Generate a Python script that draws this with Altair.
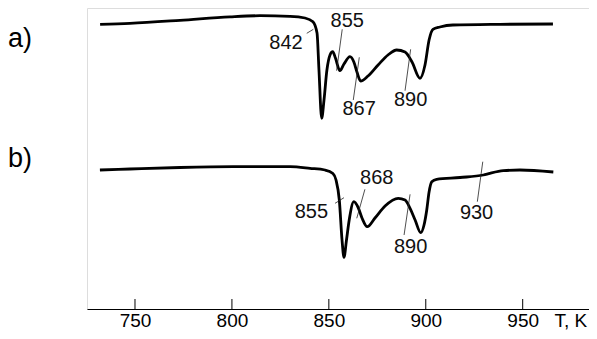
import altair as alt
import pandas as pd

# ---- data (T in K, signal in arbitrary units) ----
temps_a = [732.0, 747.4, 773.2, 799.0, 814.5, 830.0, 837.7, 841.8, 843.9, 844.9,
           846.3, 847.5, 849.0, 850.6, 852.0, 853.4, 855.7, 857.8, 860.9, 862.9,
           864.5, 866.4, 870.2, 875.4, 880.5, 885.0, 889.3, 892.9, 897.0, 899.6,
           901.7, 903.7, 907.3, 914.0, 938.3, 965.6]
signal_a = [-0.03, 0.07, 0.37, 0.72, 0.83, 0.77, 0.6, 0.23, -0.9, -4.6,
            -9.43, -7.6, -4.6, -3.1, -2.77, -3.4, -4.67, -4.0, -3.27, -3.8,
            -4.8, -5.7, -5.2, -4.1, -3.1, -2.6, -2.8, -3.8, -5.43, -4.1,
            -1.6, -0.53, -0.3, -0.1, -0.03, 0.0]

temps_b = [731.9, 747.4, 773.2, 800.6, 830.0, 840.3, 848.0, 852.1, 853.7, 855.4,
           856.8, 857.8, 859.1, 860.5, 862.9, 865.0, 867.1, 869.8, 873.8, 879.0,
           885.8, 889.3, 891.9, 894.5, 897.4, 899.1, 900.5, 901.7, 903.1, 905.6,
           917.7, 929.7, 933.1, 940.0, 948.6, 965.8]
signal_b = [0.0, 0.1, 0.25, 0.33, 0.33, 0.17, 0.0, -0.35, -1.0, -3.0,
            -7.0, -8.73, -7.0, -5.0, -3.17, -3.7, -4.8, -5.67, -4.8, -3.6,
            -2.83, -3.0, -3.83, -5.0, -6.27, -5.5, -4.0, -2.2, -1.17, -0.93,
            -0.75, -0.5, -0.33, -0.07, 0.0, -0.2]

offset_a = -1.6
offset_b = -16.2

tick_values = [750, 800, 850, 900, 950]

# annotations: label, text position, leader line
ann_labels = ["842", "855", "867", "890", "855", "868", "890", "930"]
ann_tx = [827.9, 859.5, 865.6, 892.2, 841.0, 874.7, 892.2, 926.2]
ann_ty = [-3.5, -1.25, -10.1, -9.2, -20.37, -17.03, -23.87, -20.53]
ann_x1 = [838.6, 856.9, 865.7, 892.2, 853.2, 868.6, 891.9, 929.4]
ann_y1 = [-2.53, -2.13, -4.93, -4.13, -19.53, -18.13, -18.63, -15.37]
ann_x2 = [842.0, 854.0, 862.6, 889.3, 857.8, 864.4, 888.8, 926.6]
ann_y2 = [-2.13, -6.27, -9.2, -8.27, -18.97, -21.03, -22.7, -19.37]

# ---- tables ----
curves = pd.concat([
    pd.DataFrame({"T": temps_a, "v": [s + offset_a for s in signal_a], "curve": "a"}),
    pd.DataFrame({"T": temps_b, "v": [s + offset_b for s in signal_b], "curve": "b"}),
])
ann = pd.DataFrame({"label": ann_labels, "tx": ann_tx, "ty": ann_ty,
                    "x1": ann_x1, "y1": ann_y1, "x2": ann_x2, "y2": ann_y2})
ticks = pd.DataFrame({"t": tick_values})

FONT = "Liberation Sans"
xscale = alt.Scale(domain=[725.24, 984.2], nice=False, zero=False)
yscale = alt.Scale(domain=[-30.1, 0], nice=False, zero=False)

lines = alt.Chart(curves).mark_line(
    interpolate="monotone", color="black", strokeWidth=2.8
).encode(
    x=alt.X("T:Q", scale=xscale, axis=alt.Axis(
        values=tick_values, ticks=False, grid=False, domainColor="black",
        domainWidth=1, labelFont=FONT, labelFontSize=19, labelColor="black",
        labelBaseline="alphabetic", labelPadding=17.5,
        title="T, K", titleFont=FONT, titleFontSize=19,
        titleFontWeight="normal", titleColor="black", titleX=467, titleY=17.5,
        titleAlign="left", titleBaseline="alphabetic")),
    y=alt.Y("v:Q", scale=yscale, axis=None),
    detail="curve:N",
)

leaders = alt.Chart(ann).mark_rule(color="#222", strokeWidth=0.8).encode(
    x=alt.X("x1:Q", scale=xscale),
    x2="x2:Q",
    y=alt.Y("y1:Q", scale=yscale),
    y2="y2:Q",
)

labels = alt.Chart(ann).mark_text(
    font=FONT, fontSize=20, align="center", baseline="middle", color="#111"
).encode(
    x=alt.X("tx:Q", scale=xscale),
    y=alt.Y("ty:Q", scale=yscale),
    text="label:N",
)

tickmarks = alt.Chart(ticks).mark_rule(color="black", strokeWidth=1).encode(
    x=alt.X("t:Q", scale=xscale),
    y=alt.value(291),
    y2=alt.value(301),
)

one = alt.Data(values=[{}])
lab_a = alt.Chart(one).mark_text(
    text="a)", font=FONT, fontSize=27, align="left", baseline="middle", color="black"
).encode(x=alt.value(-79), y=alt.value(31))
lab_b = alt.Chart(one).mark_text(
    text="b)", font=FONT, fontSize=27, align="left", baseline="middle", color="black"
).encode(x=alt.value(-79), y=alt.value(151))

chart = alt.layer(lines, leaders, labels, tickmarks, lab_a, lab_b).properties(
    width=502, height=301,
    autosize=alt.AutoSizeParams(type="none"),
    padding={"left": 79, "top": 0, "right": 0, "bottom": 22},
).configure_view(stroke=None).configure(background="white")

chart.save("out.html", embed_options={"renderer": "svg", "actions": False})
